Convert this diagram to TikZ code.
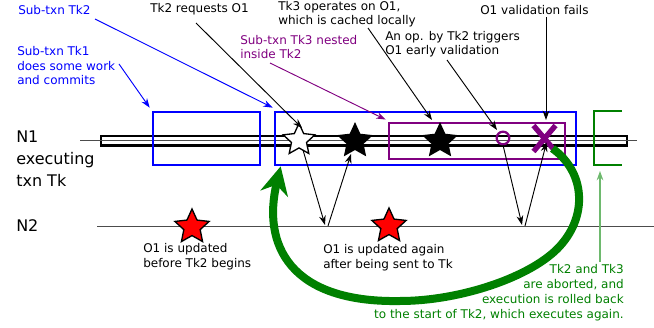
\documentclass[tikz,border=0pt]{standalone}
\usepackage{fontspec}
\setmainfont{DejaVu Sans}
\usetikzlibrary{shapes.geometric,arrows.meta}
\definecolor{tblue}{RGB}{0,0,255}
\definecolor{tpurple}{RGB}{128,0,128}
\definecolor{tgreen}{RGB}{0,128,0}
\definecolor{tlgreen}{RGB}{110,185,110}
\begin{document}
\begin{tikzpicture}[x=0.75pt,y=-0.75pt,
  lbl/.style={font=\fontsize{9}{10.9}\selectfont, align=left, anchor=base west, inner sep=0pt},
  biglbl/.style={font=\fontsize{12}{16.2}\selectfont, align=left, anchor=base west, inner sep=0pt},
  thinarrow/.style={-{Stealth[length=7pt,width=5pt]}, line width=0.7pt},
  bluebox/.style={draw=tblue, line width=2pt, inner sep=0pt},
  purplebox/.style={draw=tpurple, line width=2.2pt, inner sep=0pt},
  bstar/.style={star, star points=5, star point ratio=2.1, draw, line width=1pt, inner sep=0pt},
  timeline/.style={black!70, line width=0.7pt}
]
\useasboundingbox (0,0) rectangle (654,328);

% N1 timeline
\draw[line width=1.9pt, fill=white] (101,136.2) rectangle (627,145.4);
\coordinate (n1s) at (80,140.8);
\coordinate (n1e) at (637,140.8);
\draw[timeline] (n1s) -- (n1e);

% N2 timeline
\coordinate (n2s) at (97,226.5);
\coordinate (n2e) at (654,226.5);
\draw[timeline] (n2s) -- (n2e);

% boxes
\node[bluebox, minimum width=80.25pt, minimum height=39.75pt] (tk1) at (206.5,138.5) {};
\node[bluebox, minimum width=225.75pt, minimum height=39.75pt] (tk2) at (425.5,138.5) {};
\node[purplebox, minimum width=132pt, minimum height=27pt] (tk3) at (477,141) {};

% stars
\node[bstar, fill=white, minimum size=25pt] (ws) at (299,140) {};
\node[bstar, fill=black, minimum size=26pt] (bs1) at (355,141) {};
\node[bstar, fill=black, minimum size=26pt] (bs2) at (440,141) {};
\node[bstar, fill=red, minimum size=27pt] (rs1) at (192,227) {};
\node[bstar, fill=red, minimum size=27pt] (rs2) at (389,226) {};

% early validation circle
\node[circle, draw=tpurple, line width=1.7pt, minimum size=9.5pt, inner sep=0pt] (ov) at (503,138) {};

% failed validation cross
\node[minimum width=16.5pt, minimum height=19.5pt, inner sep=0pt, outer sep=0pt] (fx) at (544.5,138.5) {};
\draw[tpurple, line width=4pt] (fx.north west) -- (fx.south east) (fx.north east) -- (fx.south west);

% messages between N1 and N2
\coordinate (r1) at (325,225);
\coordinate (q1) at (328,226);
\coordinate (r2) at (522,225);
\coordinate (q2) at (525,226);
\draw[thinarrow] ([shift={(4,10)}]ws.center) -- (r1);
\draw[thinarrow] (q1) -- ([shift={(-4,13)}]bs1.center);
\draw[thinarrow] ([shift={(0,7)}]ov.center) -- (r2);
\draw[thinarrow] (q2) -- ([shift={(2,4)}]fx.center);

% labels (base anchor = baseline of the last line)
\node[lbl, text=tblue] (ltk2) at (18,15) {Sub-txn Tk2};
\node[lbl, text=tblue] (ltk1) at (17,85) {Sub-txn Tk1\\does some work\\and commits};
\node[lbl] (lreq) at (150,13) {Tk2 requests O1};
\node[lbl] (lop) at (278,25) {Tk3 operates on O1,\\which is cached locally};
\node[lbl, text=tpurple] (ltk3) at (240,59) {Sub-txn Tk3 nested\\inside Tk2};
\node[lbl] (learly) at (385,55) {An op. by Tk2 triggers\\O1 early validation};
\node[lbl] (lfail) at (480,15) {O1 validation fails};
\node[biglbl] (ln1) at (16,186) {N1\\executing\\txn Tk};
\node[biglbl] (ln2) at (16,231) {N2};
\node[lbl] (lupd1) at (143,267) {O1 is updated\\before Tk2 begins};
\node[lbl] (lupd2) at (323,268) {O1 is updated again\\after being sent to Tk};
\node[lbl, text=tgreen, align=right, anchor=base east, font=\fontsize{9}{11.25}\selectfont] (labort) at (624,318)
  {Tk2 and Tk3\\are aborted, and\\execution is rolled back\\to the start of Tk2, which executes again.};

% label arrows
\coordinate (atk2) at (95,19);
\coordinate (atk1) at (119,64);
\coordinate (areq) at (196,23);
\coordinate (aop) at (368,28);
\coordinate (atk3) at (270,63);
\coordinate (aearly) at (447,60);
\coordinate (afail) at (546,17);
\coordinate (aabort) at (600,262);
\coordinate (brk) at (600,171);
\draw[thinarrow, tblue] (atk2) -- ([shift={(-1,-3)}]tk2.north west);
\draw[thinarrow, tblue] (atk1) -- ([shift={(-2,-3)}]tk1.north west);
\draw[thinarrow] (areq) -- ([shift={(3,-12)}]ws.center);
\draw[thinarrow] (aop) -- ([shift={(-8,-21)}]bs2.center);
\draw[thinarrow, tpurple] (atk3) -- ([shift={(-2,-2)}]tk3.north west);
\draw[thinarrow] (aearly) -- ([shift={(-6,-8)}]ov.center);
\draw[thinarrow] (afail) -- ([shift={(1.5,-18.5)}]fx.center);
\draw[thinarrow, tlgreen, line width=1pt] (aabort) -- (brk);

% rollback arrow
\draw[tgreen, line width=6pt, -{Stealth[length=21pt,width=21pt]}]
  ([shift={(8,10)}]fx.center) .. controls (585,172) and (588,215) .. (560,246)
  .. controls (532,277) and (460,301) .. (400,301)
  .. controls (290,303) and (262,245) .. ([shift={(7,0)}]tk2.south west);

% aborted bracket
\draw[tgreen, line width=2pt] (622,111) -- (594,111) -- (594,165) -- (622,165);
\end{tikzpicture}
\end{document}
